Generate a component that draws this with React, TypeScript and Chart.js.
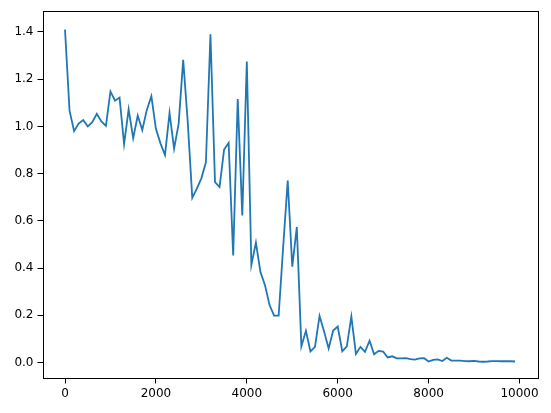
import React, { useEffect, useRef } from "react";
import { Chart, registerables } from "chart.js";

Chart.register(...registerables);

const steps = [
  0, 100, 200, 300, 400, 500, 600, 700, 800, 900,
  1000, 1100, 1200, 1300, 1400, 1500, 1600, 1700, 1800, 1900,
  2000, 2100, 2200, 2300, 2400, 2500, 2600, 2700, 2800, 2900,
  3000, 3100, 3200, 3300, 3400, 3500, 3600, 3700, 3800, 3900,
  4000, 4100, 4200, 4300, 4400, 4500, 4600, 4700, 4800, 4900,
  5000, 5100, 5200, 5300, 5400, 5500, 5600, 5700, 5800, 5900,
  6000, 6100, 6200, 6300, 6400, 6500, 6600, 6700, 6800, 6900,
  7000, 7100, 7200, 7300, 7400, 7500, 7600, 7700, 7800, 7900,
  8000, 8100, 8200, 8300, 8400, 8500, 8600, 8700, 8800, 8900,
  9000, 9100, 9200, 9300, 9400, 9500, 9600, 9700, 9800, 9900,
];

const loss = [
  1.41, 1.067, 0.98, 1.012, 1.027, 1.0, 1.018, 1.053, 1.021, 1.002,
  1.148, 1.109, 1.122, 0.925, 1.072, 0.95, 1.046, 0.985, 1.07, 1.128,
  0.99, 0.928, 0.879, 1.057, 0.906, 1.011, 1.282, 1.02, 0.697, 0.736,
  0.78, 0.848, 1.39, 0.764, 0.743, 0.902, 0.93, 0.453, 1.116, 0.623,
  1.275, 0.413, 0.508, 0.383, 0.327, 0.243, 0.198, 0.198, 0.49, 0.771,
  0.406, 0.574, 0.068, 0.134, 0.047, 0.066, 0.197, 0.131, 0.059, 0.135,
  0.152, 0.047, 0.068, 0.194, 0.036, 0.066, 0.045, 0.092, 0.035, 0.049,
  0.046, 0.021, 0.026, 0.017, 0.017, 0.018, 0.014, 0.012, 0.017, 0.018,
  0.004, 0.011, 0.013, 0.006, 0.02, 0.008, 0.008, 0.008, 0.006, 0.005,
  0.007, 0.004, 0.003, 0.004, 0.006, 0.006, 0.005, 0.005, 0.005, 0.004,
];

const xTicks = [0, 2000, 4000, 6000, 8000, 10000];
const yTicks = [0.0, 0.2, 0.4, 0.6, 0.8, 1.0, 1.2, 1.4];

const framePlugin = {
  id: "frame",
  afterDraw(chart: any) {
    const { ctx, chartArea } = chart;
    const { left, top, right, bottom } = chartArea;
    ctx.save();
    ctx.strokeStyle = "#000";
    ctx.lineWidth = 1;
    ctx.strokeRect(Math.round(left) + 0.5, Math.round(top) + 0.5, Math.round(right - left), Math.round(bottom - top));
    ctx.restore();
  },
};

export default function App() {
  const ref = useRef<HTMLCanvasElement | null>(null);

  useEffect(() => {
    if (!ref.current) return;
    const font = { family: "'DejaVu Sans', sans-serif", size: 12 };
    const chart = new Chart(ref.current, {
      type: "line",
      data: {
        datasets: [
          {
            data: steps.map((s, i) => ({ x: s, y: loss[i] })),
            borderColor: "#1f77b4",
            borderWidth: 1.8,
            pointRadius: 0,
            tension: 0,
            fill: false,
          },
        ],
      },
      options: {
        animation: false,
        responsive: false,
        devicePixelRatio: 1,
        layout: { padding: { left: 0, top: 10, right: 13.5, bottom: 0 } },
        plugins: { legend: { display: false }, tooltip: { enabled: false } },
        scales: {
          x: {
            type: "linear",
            min: -495,
            max: 10395,
            afterBuildTicks: (scale: any) => {
              scale.ticks = xTicks.map((v) => ({ value: v }));
            },
            afterFit: (scale: any) => {
              scale.height = 34.5;
            },
            border: { display: false },
            grid: {
              drawOnChartArea: false,
              drawTicks: true,
              tickLength: 5,
              color: "#000",
              lineWidth: 1,
            },
            ticks: {
              color: "#000",
              font,
              padding: 3,
              maxRotation: 0,
              autoSkip: false,
              callback: (v: any) => String(v),
            },
          },
          y: {
            type: "linear",
            min: -0.068,
            max: 1.488,
            afterBuildTicks: (scale: any) => {
              scale.ticks = yTicks.map((v) => ({ value: v }));
            },
            afterFit: (scale: any) => {
              scale.width = 42.5;
            },
            border: { display: false },
            grid: {
              drawOnChartArea: false,
              drawTicks: true,
              tickLength: 5,
              color: "#000",
              lineWidth: 1,
            },
            ticks: {
              color: "#000",
              font,
              padding: 4,
              autoSkip: false,
              callback: (v: any) => Number(v).toFixed(1),
            },
          },
        },
      },
      plugins: [framePlugin],
    } as any);
    return () => chart.destroy();
  }, []);

  return (
    <div style={{ position: "absolute", left: 0, top: 0, width: 551, height: 413, background: "#fff" }}>
      <canvas ref={ref} width={551} height={413} style={{ display: "block" }} />
    </div>
  );
}
